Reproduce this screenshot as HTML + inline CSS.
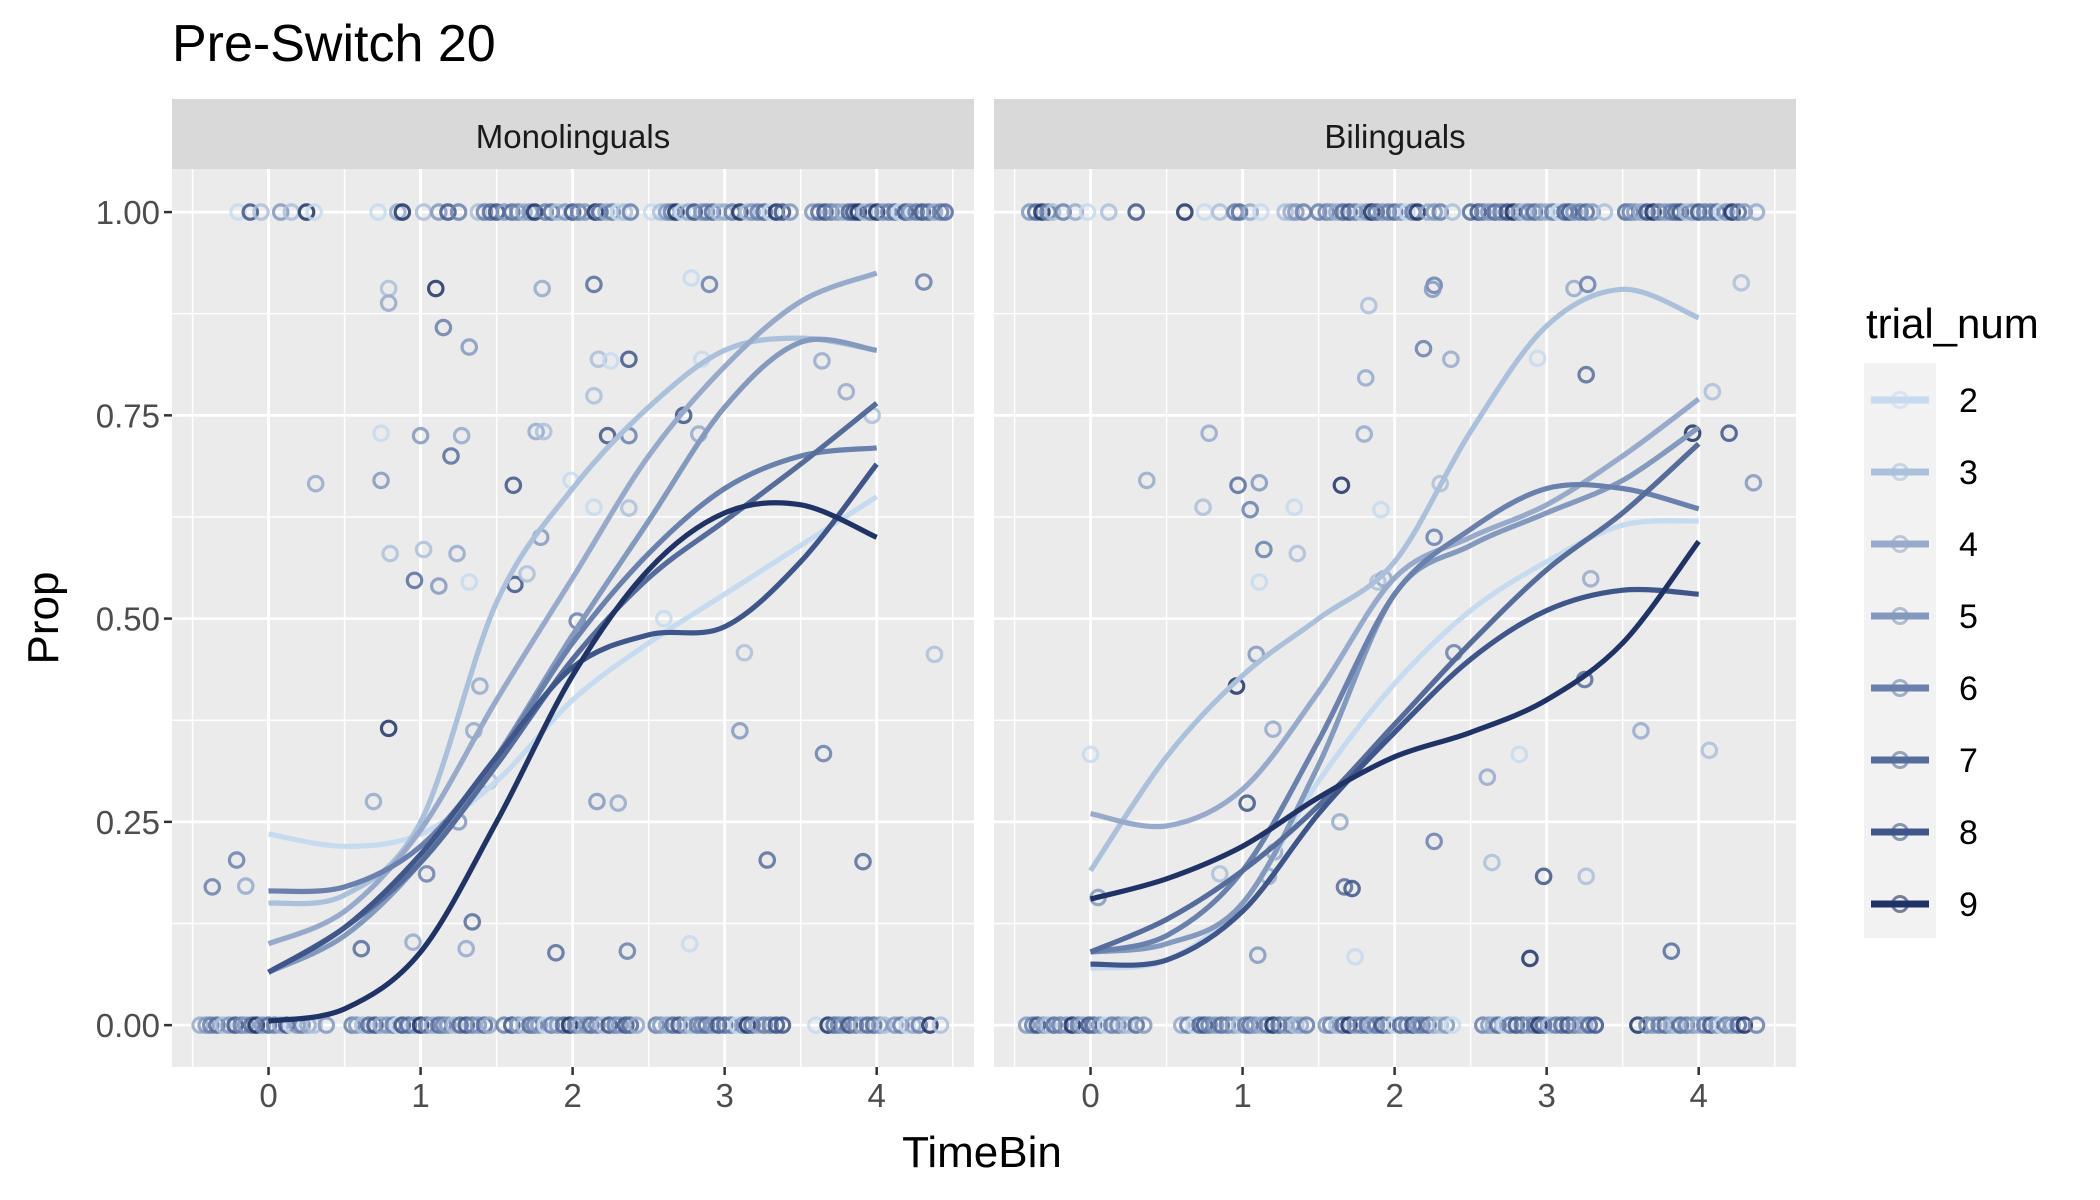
<!DOCTYPE html>
<html><head><meta charset="utf-8">
<style>
html,body{margin:0;padding:0;background:#fff;}
svg{display:block;font-family:"Liberation Sans",Arial,sans-serif;}
</style></head>
<body>
<svg id="chart" width="2100" height="1200" viewBox="0 0 2100 1200" xmlns="http://www.w3.org/2000/svg">
<text x="172" y="61" font-size="52" fill="#000">Pre-Switch 20</text>
<g id="panels"></g>
<text x="982" y="1167" font-size="44" fill="#000" text-anchor="middle">TimeBin</text>
<text transform="translate(58,618) rotate(-90)" font-size="44" fill="#000" text-anchor="middle">Prop</text>
<g id="legend">
<text x="1866" y="338" font-size="42" fill="#000">trial_num</text>
<rect x="1864" y="363" width="72" height="575" fill="#f2f2f2"/>
</g>
</svg>
<script>
const trials = [2,3,4,5,6,7,8,9];
const colors = ["#c6dbef","#abc0db","#97aacb","#8499be","#6a80ad","#566d9c","#3f568a","#1f3366"];
const panelNames = ["Monolinguals","Bilinguals"];
const smoothX = [0,0.5,1,1.5,2,2.5,3,3.5,4];
const xTicks = [0,1,2,3,4];
const yTicks = [0,0.25,0.5,0.75,1];
const yTickLabels = ["0.00","0.25","0.50","0.75","1.00"];
// smooth curves, Monolinguals (one per trial)
const monoCurves = [
 [0.235,0.22,0.235,0.30,0.40,0.47,0.53,0.59,0.65],
 [0.15,0.16,0.25,0.52,0.66,0.76,0.83,0.845,0.83],
 [0.10,0.14,0.24,0.40,0.55,0.70,0.81,0.89,0.925],
 [0.065,0.11,0.20,0.33,0.48,0.62,0.76,0.84,0.83],
 [0.165,0.17,0.22,0.33,0.47,0.58,0.66,0.70,0.71],
 [0.065,0.12,0.20,0.32,0.45,0.55,0.62,0.69,0.765],
 [0.065,0.12,0.21,0.33,0.44,0.48,0.49,0.57,0.69],
 [0.005,0.02,0.09,0.25,0.43,0.56,0.63,0.64,0.60]
];
// smooth curves, Bilinguals
const biCurves = [
 [0.07,0.08,0.15,0.30,0.42,0.51,0.57,0.615,0.62],
 [0.19,0.33,0.43,0.50,0.57,0.73,0.86,0.905,0.87],
 [0.26,0.245,0.29,0.41,0.55,0.60,0.64,0.70,0.77],
 [0.09,0.10,0.15,0.32,0.53,0.59,0.63,0.67,0.735],
 [0.09,0.11,0.19,0.35,0.53,0.61,0.66,0.66,0.635],
 [0.09,0.13,0.19,0.27,0.37,0.47,0.56,0.63,0.715],
 [0.075,0.08,0.14,0.26,0.36,0.45,0.51,0.535,0.53],
 [0.155,0.18,0.22,0.28,0.33,0.36,0.40,0.47,0.595]
];
// scattered points [x, y, trial]
const monoPts = [
[0.31,0.666,4],[0.79,0.906,3],[0.79,0.888,4],[1.10,0.906,9],[1.15,0.858,6],[1.32,0.834,5],[1.80,0.906,4],[2.14,0.911,7],[2.78,0.919,2],[2.90,0.911,6],[4.31,0.914,6],
[0.74,0.728,2],[1.0,0.725,5],[1.27,0.725,4],[1.2,0.70,7],[0.74,0.67,5],[1.61,0.664,8],[1.76,0.73,4],[1.81,0.73,3],[2.14,0.774,3],[2.17,0.819,3],[2.25,0.817,2],[2.37,0.819,8],[2.37,0.725,6],[2.23,0.725,8],[2.73,0.75,8],[2.83,0.727,4],[2.85,0.819,2],[3.64,0.817,4],[3.80,0.779,4],[3.97,0.75,3],
[0.80,0.58,3],[1.02,0.585,3],[1.24,0.58,4],[1.32,0.545,2],[1.12,0.54,5],[0.96,0.547,7],[1.62,0.542,8],[1.7,0.555,3],[1.79,0.60,5],[1.99,0.67,2],[2.03,0.497,6],[2.14,0.637,2],[2.37,0.636,3],[2.6,0.5,2],[3.13,0.458,3],[3.10,0.362,5],[4.38,0.456,3],[3.65,0.334,6],[0.79,0.365,9],[1.39,0.417,4],[1.35,0.362,4],[2.16,0.275,5],[2.30,0.273,4],[3.28,0.203,7],[3.91,0.201,7],
[-0.21,0.203,6],[-0.37,0.17,6],[-0.15,0.171,4],[0.69,0.275,4],[1.04,0.186,6],[1.30,0.094,4],[1.34,0.127,7],[0.61,0.094,7],[1.89,0.089,7],[2.36,0.091,6],[2.77,0.1,2],[0.95,0.102,4],[1.25,0.25,5],[1.45,0.3,3]
];
const biPts = [
[4.28,0.913,3],[3.18,0.906,4],[3.27,0.911,6],[1.83,0.885,3],[2.26,0.91,6],[2.25,0.905,5],[2.19,0.832,6],[2.37,0.819,4],[2.94,0.82,2],[3.26,0.8,7],[1.81,0.796,4],[0.78,0.728,4],[1.80,0.727,4],[3.96,0.728,9],[4.2,0.728,8],[4.09,0.779,3],
[0.37,0.67,4],[0.97,0.664,7],[1.11,0.667,5],[1.65,0.664,9],[4.36,0.667,5],[0.74,0.637,3],[1.05,0.634,6],[1.34,0.637,2],[1.91,0.634,2],[2.30,0.666,3],[1.14,0.585,6],[1.36,0.58,3],[1.11,0.545,2],[1.89,0.545,3],[1.93,0.549,4],[2.26,0.60,6],
[1.09,0.456,5],[0.96,0.417,9],[1.20,0.364,4],[2.39,0.458,6],[3.29,0.549,4],[3.25,0.425,7],[3.62,0.362,4],[4.07,0.338,3],[2.82,0.333,2],[0,0.333,2],[1.03,0.273,8],[1.64,0.25,4],[2.61,0.305,4],[2.64,0.2,3],[2.26,0.226,6],[2.98,0.183,8],[3.26,0.183,3],[0.85,0.186,3],[1.17,0.183,4],[1.21,0.213,4],[1.67,0.17,7],[1.72,0.168,8],[1.10,0.086,5],[1.74,0.084,2],[2.89,0.082,9],[3.82,0.091,7],[0.05,0.157,5]
];
// rows of points at 1 and 0: [x, trial]
const monoTop = [[-0.2,2],[-0.12,8],[-0.05,3],[0.08,5],[0.15,3],[0.25,9],[0.3,2],[0.72,2],[0.85,4],[0.88,9],[1.02,3],[1.12,5],[1.18,8],[1.25,6],[1.38,3],
[1.42,6],[1.46,7],[1.5,8],[1.55,5],[1.6,7],[1.64,6],[1.68,4],[1.72,5],[1.75,9],[1.82,6],[1.86,7],[1.9,3],[1.95,5],[2.0,8],[2.04,6],[2.08,5],[2.15,9],[2.18,7],[2.22,4],[2.26,6],[2.3,2],[2.34,3],[2.38,6],
[2.52,2],[2.58,3],[2.62,5],[2.65,6],[2.68,9],[2.72,2],[2.76,4],[2.8,8],[2.85,5],[2.88,6],[2.92,7],[2.96,3],[3.0,4],[3.05,6],[3.1,9],[3.15,3],[3.18,5],[3.22,6],[3.26,7],[3.3,2],[3.34,9],[3.38,8],[3.43,5],
[3.58,5],[3.62,7],[3.66,8],[3.7,6],[3.74,5],[3.78,4],[3.82,7],[3.85,8],[3.88,9],[3.92,3],[3.96,6],[4.0,9],[4.04,5],[4.08,6],[4.12,7],[4.15,2],[4.19,8],[4.22,5],[4.26,6],[4.3,8],[4.34,7],[4.38,4],[4.42,6],[4.45,7]];
const monoBot = [[-0.45,4],[-0.41,5],[-0.38,6],[-0.34,7],[-0.3,3],[-0.26,5],[-0.22,8],[-0.18,6],[-0.15,5],[-0.11,7],[-0.08,9],[-0.04,5],[0,7],[0.04,6],[0.08,4],[0.12,8],[0.15,2],[0.19,5],[0.22,6],[0.26,4],[0.3,3],[0.38,5],
[0.55,6],[0.58,5],[0.62,3],[0.66,7],[0.7,8],[0.74,4],[0.78,5],[0.82,6],[0.85,2],[0.88,8],[0.92,7],[0.96,5],[1.0,9],[1.04,6],[1.08,4],[1.12,7],[1.15,6],[1.18,5],[1.22,3],[1.26,7],[1.3,8],[1.34,6],[1.38,5],[1.42,7],[1.45,4],
[1.55,6],[1.6,8],[1.64,5],[1.68,3],[1.72,7],[1.75,6],[1.78,5],[1.82,2],[1.86,6],[1.9,5],[1.94,7],[1.98,9],[2.02,6],[2.05,4],[2.09,5],[2.12,7],[2.16,6],[2.2,3],[2.24,8],[2.28,6],[2.31,5],[2.35,8],[2.38,7],[2.42,4],
[2.55,6],[2.58,5],[2.62,4],[2.66,7],[2.7,8],[2.74,5],[2.78,3],[2.82,6],[2.85,6],[2.88,7],[2.92,5],[2.96,8],[3.0,7],[3.04,6],[3.08,2],[3.12,5],[3.15,9],[3.18,7],[3.22,4],[3.26,6],[3.3,6],[3.34,8],[3.38,8],
[3.6,2],[3.68,9],[3.72,7],[3.75,6],[3.78,5],[3.82,8],[3.86,6],[3.9,4],[3.94,7],[3.98,7],[4.02,5],[4.05,3],[4.12,5],[4.16,6],[4.2,2],[4.24,4],[4.28,6],[4.35,9],[4.42,3]];
const biTop = [[-0.4,5],[-0.36,7],[-0.32,9],[-0.28,6],[-0.25,3],[-0.18,6],[-0.1,4],[-0.02,2],[0.12,3],[0.3,8],[0.62,9],[0.75,2],[0.85,3],[0.95,6],[0.98,7],[1.05,4],[1.12,2],[1.28,3],[1.32,4],[1.35,5],[1.4,6],
[1.5,6],[1.55,6],[1.58,5],[1.62,4],[1.66,7],[1.7,8],[1.74,6],[1.78,3],[1.82,5],[1.85,9],[1.88,7],[1.92,5],[1.96,6],[2.0,7],[2.04,5],[2.08,2],[2.12,6],[2.15,9],[2.22,4],[2.26,5],[2.3,6],[2.38,3],
[2.5,7],[2.55,8],[2.58,6],[2.62,5],[2.66,7],[2.7,6],[2.74,8],[2.78,9],[2.82,5],[2.85,3],[2.88,6],[2.92,7],[2.96,5],[3.0,4],[3.04,6],[3.08,2],[3.12,7],[3.15,8],[3.18,5],[3.22,6],[3.26,7],[3.3,5],[3.38,3],
[3.52,7],[3.55,6],[3.58,5],[3.62,4],[3.66,8],[3.7,9],[3.74,6],[3.78,5],[3.82,6],[3.85,7],[3.88,8],[3.92,3],[3.96,5],[4.0,8],[4.04,6],[4.08,6],[4.12,7],[4.15,2],[4.18,5],[4.22,9],[4.26,7],[4.3,5],[4.38,4]];
const biBot = [[-0.42,5],[-0.38,6],[-0.35,8],[-0.31,5],[-0.28,3],[-0.24,7],[-0.2,6],[-0.16,5],[-0.12,9],[-0.08,6],[-0.05,4],[-0.01,8],[0.02,7],[0.06,5],[0.1,2],[0.14,6],[0.18,6],[0.22,4],[0.25,3],[0.3,7],[0.35,5],
[0.6,4],[0.64,6],[0.68,2],[0.72,7],[0.75,8],[0.78,6],[0.82,5],[0.86,7],[0.9,6],[0.94,5],[0.98,3],[1.02,6],[1.05,7],[1.08,5],[1.12,4],[1.16,6],[1.2,9],[1.24,7],[1.28,5],[1.32,6],[1.35,3],[1.38,4],[1.42,6],
[1.55,5],[1.58,6],[1.62,3],[1.66,7],[1.7,9],[1.74,5],[1.78,6],[1.82,7],[1.85,4],[1.88,6],[1.92,8],[1.96,5],[2.0,2],[2.04,7],[2.08,6],[2.12,8],[2.15,5],[2.18,6],[2.22,7],[2.26,4],[2.3,3],[2.34,5],[2.38,2],
[2.58,6],[2.62,5],[2.65,4],[2.68,7],[2.72,2],[2.76,6],[2.8,8],[2.84,7],[2.88,5],[2.92,6],[2.95,9],[2.98,7],[3.02,3],[3.06,6],[3.1,7],[3.14,8],[3.18,6],[3.22,5],[3.25,4],[3.28,7],[3.32,8],
[3.6,9],[3.66,6],[3.7,5],[3.74,6],[3.78,7],[3.82,4],[3.85,3],[3.88,7],[3.92,6],[3.96,5],[4.0,4],[4.04,6],[4.08,8],[4.12,5],[4.15,2],[4.18,6],[4.22,5],[4.26,7],[4.3,9],[4.38,6]];

const NS = "http://www.w3.org/2000/svg";
function mk(tag, attrs, parent){const e=document.createElementNS(NS,tag);for(const k in attrs)e.setAttribute(k,attrs[k]);if(parent)parent.appendChild(e);return e;}
const panelsG = document.getElementById('panels');
const panelX = [172, 994];
const panelW = 802;
const plotTop = 169, plotBot = 1067, stripTop = 99;
const xMin = -0.635, xMax = 4.64, yMin = -0.0515, yMax = 1.053;
function yScale(v){return plotBot - (v - yMin)/(yMax - yMin)*(plotBot - plotTop);}
function smoothPath(pts){
  let d = "M"+pts[0][0].toFixed(1)+","+pts[0][1].toFixed(1);
  for(let i=0;i<pts.length-1;i++){
    const p0=pts[Math.max(0,i-1)],p1=pts[i],p2=pts[i+1],p3=pts[Math.min(pts.length-1,i+2)];
    const c1x=p1[0]+(p2[0]-p0[0])/6,c1y=p1[1]+(p2[1]-p0[1])/6;
    const c2x=p2[0]-(p3[0]-p1[0])/6,c2y=p2[1]-(p3[1]-p1[1])/6;
    d+=" C"+c1x.toFixed(1)+","+c1y.toFixed(1)+" "+c2x.toFixed(1)+","+c2y.toFixed(1)+" "+p2[0].toFixed(1)+","+p2[1].toFixed(1);
  }
  return d;
}
const panelCurves = [monoCurves, biCurves];
const panelPts = [monoPts, biPts];
const panelTop = [monoTop, biTop];
const panelBot = [monoBot, biBot];
for(let p=0;p<2;p++){
  const px = panelX[p];
  const xScale = v => px + (v - xMin)/(xMax - xMin)*panelW;
  const g = mk('g',{},panelsG);
  
  
  const strip = mk('rect',{x:px,y:stripTop,width:panelW,height:plotTop-stripTop,fill:'#d9d9d9'},g);
  
  
  const st = mk('text',{x:px+panelW/2,y:148,'font-size':33,'text-anchor':'middle',fill:'#1a1a1a'},g);
  st.textContent = panelNames[p];
  
  
  const bg = mk('rect',{x:px,y:plotTop,width:panelW,height:plotBot-plotTop,fill:'#ebebeb'},g);
  
  
  for(let i=0;i<yTicks.length-1;i++){const y=yScale((yTicks[i]+yTicks[i+1])/2);mk('line',{x1:px,x2:px+panelW,y1:y,y2:y,stroke:'#fff','stroke-width':1.4},g);}
  for(let i=-1;i<xTicks.length;i++){const x=xScale(i+0.5);mk('line',{x1:x,x2:x,y1:plotTop,y2:plotBot,stroke:'#fff','stroke-width':1.4},g);}
  yTicks.forEach(t=>{const y=yScale(t);mk('line',{x1:px,x2:px+panelW,y1:y,y2:y,stroke:'#fff','stroke-width':2.8},g);});
  xTicks.forEach(t=>{const x=xScale(t);mk('line',{x1:x,x2:x,y1:plotTop,y2:plotBot,stroke:'#fff','stroke-width':2.8},g);
    mk('line',{x1:x,x2:x,y1:plotBot,y2:plotBot+8,stroke:'#333','stroke-width':2.5},g);
    const tl=mk('text',{x:x,y:plotBot+40,'font-size':33,'text-anchor':'middle',fill:'#4d4d4d'},g);
    tl.textContent=String(t);
    
    
  });
  if(p===0){
    yTicks.forEach((t,i)=>{const y=yScale(t);
      mk('line',{x1:px-8,x2:px,y1:y,y2:y,stroke:'#333','stroke-width':2.5},g);
      const tl=mk('text',{x:px-12,y:y+12,'font-size':33,'text-anchor':'end',fill:'#4d4d4d'},g);
      tl.textContent=yTickLabels[i];
      
      
    });
  }
  const ptsG = mk('g',{},g);
  function dot(x,y,t){
    const c = mk('circle',{cx:xScale(x),cy:yScale(y),r:7.2,fill:'none',stroke:colors[trials.indexOf(t)],'stroke-width':3.2,'stroke-opacity':0.85},ptsG);
    
    
  }
  panelTop[p].forEach(a=>dot(a[0],1,a[1]));
  panelBot[p].forEach(a=>dot(a[0],0,a[1]));
  panelPts[p].forEach(a=>dot(a[0],a[1],a[2]));
  panelCurves[p].forEach((vals,i)=>{
    const pts = smoothX.map((x,j)=>[xScale(x),yScale(vals[j])]);
    const path = mk('path',{d:smoothPath(pts),fill:'none',stroke:colors[i],'stroke-width':5.2,'stroke-linecap':'butt'},g);
    
    
  });
}
const lg = document.getElementById('legend');
trials.forEach((t,i)=>{
  const y = 400 + i*72;
  const l = mk('line',{x1:1871,x2:1929,y1:y,y2:y,stroke:colors[i],'stroke-width':7},lg);
  
  
  const c = mk('circle',{cx:1900,cy:y,r:7.5,fill:'none',stroke:colors[i],'stroke-width':3,'stroke-opacity':0.6},lg);
  
  
  const tx = mk('text',{x:1959,y:y+12,'font-size':34,fill:'#000'},lg);
  tx.textContent = String(t);
  
  
});
</script>
</body></html>
